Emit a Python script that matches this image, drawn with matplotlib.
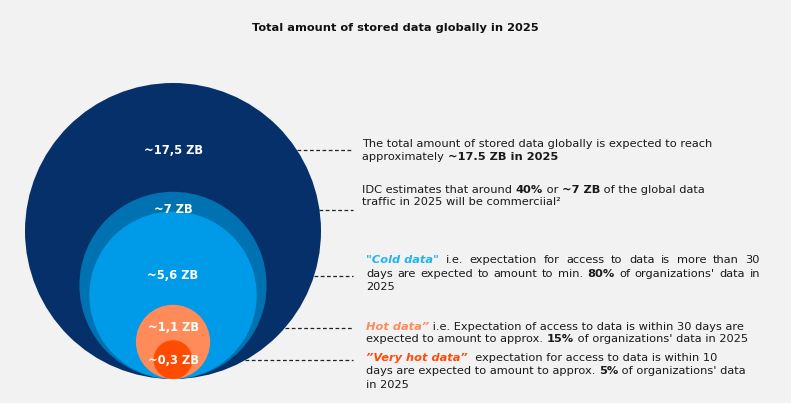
import numpy as np
import matplotlib
matplotlib.use("Agg")
import matplotlib.pyplot as plt
from matplotlib.patches import Circle

# data
values = [17.5, 7, 5.6, 1.1, 0.3]
circle_labels = ["~17,5 ZB", "~7 ZB", "~5,6 ZB", "~1,1 ZB", "~0,3 ZB"]
circle_colors = ["#05306a", "#0071b1", "#009be8", "#ff8a5a", "#ff4c00"]
label_offsets = [67, 18, 64, 23, 20]  # px below each circle's top

descriptions = [
    [[("The total amount of stored data globally is expected to reach", "n")],
     [("approximately ", "n"), ("~17.5 ZB in 2025", "b")]],
    [[("IDC estimates that around ", "n"), ("40%", "b"), (" or ", "n"), ("~7 ZB", "b"),
      (" of the global data", "n")],
     [("traffic in 2025 will be commerciial\u00b2", "n")]],
    [[('"Cold data"', "cold"), (" i.e. expectation for access to data is more than 30", "n")],
     [("days are expected to amount to min. ", "n"), ("80%", "b"),
      (" of organizations' data in", "n")],
     [("2025", "n")]],
    [[("Hot data\u201d", "hot"), (" i.e. Expectation of access to data is within 30 days are", "n")],
     [("expected to amount to approx. ", "n"), ("15%", "b"), (" of organizations' data in 2025", "n")]],
    [[("\u201dVery hot data\u201d", "vhot"), ("  expectation for access to data is within 10", "n")],
     [("days are expected to amount to approx. ", "n"), ("5%", "b"), (" of organizations' data", "n")],
     [("in 2025", "n")]],
]
# layout of the text blocks (x, first line y, line step, justified?)
block_layout = [(362, 144, 12.8, False), (362, 190, 12.0, False), (366, 260, 13.7, True),
                (366, 327, 12.5, False), (366, 358, 13.5, False)]

styles = {
    "n": dict(color="#1a1a1a", weight="normal", style="normal"),
    "b": dict(color="#1a1a1a", weight="bold", style="normal"),
    "cold": dict(color="#1fb4f0", weight="bold", style="italic"),
    "hot": dict(color="#ff8a5a", weight="bold", style="italic"),
    "vhot": dict(color="#ff4a0a", weight="bold", style="italic"),
}

W, H = 791, 403
fig = plt.figure(figsize=(W / 100, H / 100), dpi=100, facecolor="#f2f2f2")
ax = fig.add_axes([0, 0, 1, 1])
ax.set_xlim(0, W)
ax.set_ylim(H, 0)
ax.axis("off")

cx, bottom, rmax = 173, 379, 148
radii = [rmax * np.sqrt(v / values[0]) for v in values]
for v, r, c, lab, off in zip(values, radii, circle_colors, circle_labels, label_offsets):
    ax.add_patch(Circle((cx, bottom - r), r, color=c, lw=0))
    ax.text(cx, bottom - 2 * r + off, lab, color="white", fontsize=8.3, fontweight="bold",
            ha="center", va="center")

ax.text(W / 2, 28, "Total amount of stored data globally in 2025", fontsize=8.2,
        fontweight="bold", ha="center", va="center", color="#111111")

fig.canvas.draw()
renderer = fig.canvas.get_renderer()
FS = 8.2


def raw_width(s, st):
    t = ax.text(0, 0, s, fontsize=FS, fontweight=styles[st]["weight"],
                fontstyle=styles[st]["style"])
    w = t.get_window_extent(renderer).width
    t.remove()
    return w


def width_of(s, st):
    # advance width, trailing/leading spaces included
    return raw_width("|" + s + "|", st) - raw_width("||", st)


def put(x, y, s, st):
    ax.text(x, y, s, fontsize=FS, va="center", color=styles[st]["color"],
            fontweight=styles[st]["weight"], fontstyle=styles[st]["style"])


def draw_line(x, y, runs, right=None):
    if right is None:
        for s, st in runs:
            put(x, y, s, st)
            x += width_of(s, st)
        return
    words = []
    for s, st in runs:
        if st != "n":
            words.append((s.strip(), st))
            continue
        for w in s.split(" "):
            if w:
                words.append((w, st))
    widths = [width_of(w, st) for w, st in words]
    gap = (right - x - sum(widths)) / (len(words) - 1)
    for (w, st), wd in zip(words, widths):
        put(x, y, w, st)
        x += wd + gap


# dashed leader lines at the circle label heights
big_cy = bottom - radii[0]
for r, off in zip(radii, label_offsets):
    y = bottom - 2 * r + off
    xe = cx + np.sqrt(max(radii[0] ** 2 - (y - big_cy) ** 2, 0))
    ax.plot([xe, 353], [y, y], ls=(0, (3, 2)), color="#222222", lw=0.9)

for lines, (bx, by, step, just) in zip(descriptions, block_layout):
    for i, runs in enumerate(lines):
        right = 760 if (just and i < len(lines) - 1) else None
        draw_line(bx, by + i * step, runs, right)

fig.savefig("out.png", dpi=100, facecolor=fig.get_facecolor())
